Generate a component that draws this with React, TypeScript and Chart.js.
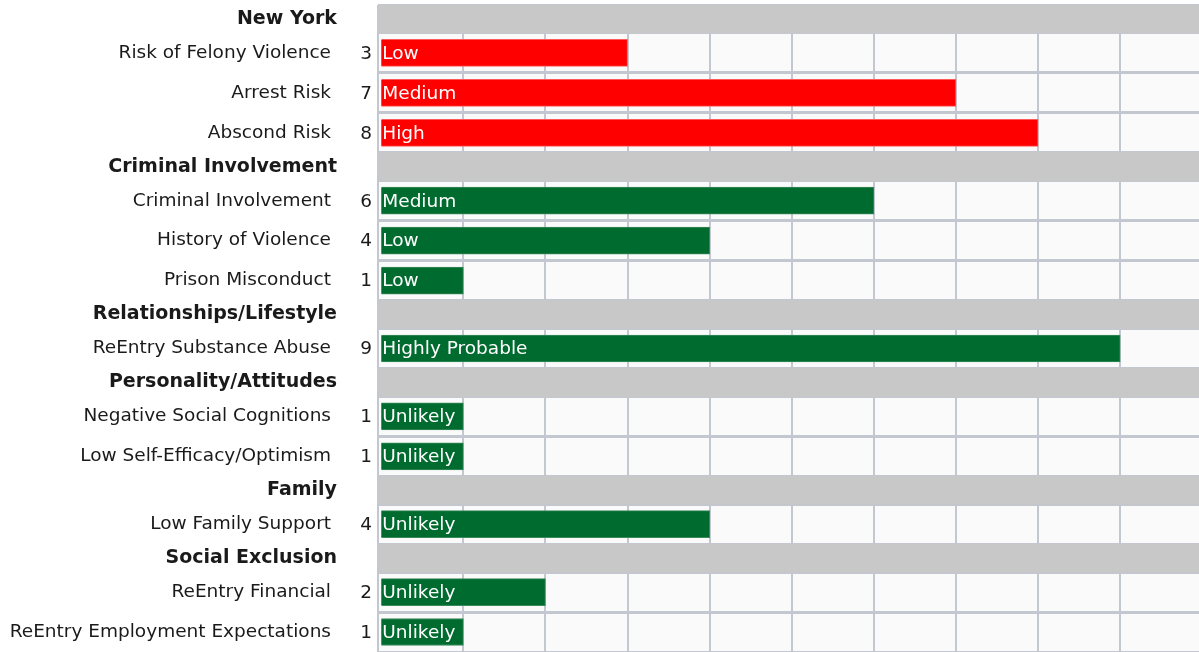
import React, { useEffect, useRef } from "react";
import { Chart, registerables } from "chart.js";

Chart.register(...registerables);

const rowLabels = [
  "New York",
  "Risk of Felony Violence",
  "Arrest Risk",
  "Abscond Risk",
  "Criminal Involvement",
  "Criminal Involvement",
  "History of Violence",
  "Prison Misconduct",
  "Relationships/Lifestyle",
  "ReEntry Substance Abuse",
  "Personality/Attitudes",
  "Negative Social Cognitions",
  "Low Self-Efficacy/Optimism",
  "Family",
  "Low Family Support",
  "Social Exclusion",
  "ReEntry Financial",
  "ReEntry Employment Expectations",
];
const rowIsHeader = [
  true, false, false, false,
  true, false, false, false,
  true, false,
  true, false, false,
  true, false,
  true, false, false,
];
const scores: (number | null)[] = [
  null, 3, 7, 8,
  null, 6, 4, 1,
  null, 9,
  null, 1, 1,
  null, 4,
  null, 2, 1,
];
const levels: (string | null)[] = [
  null, "Low", "Medium", "High",
  null, "Medium", "Low", "Low",
  null, "Highly Probable",
  null, "Unlikely", "Unlikely",
  null, "Unlikely",
  null, "Unlikely", "Unlikely",
];
const RED = "#ff0000";
const GREEN = "#006b2e";
const barColors = [
  "", RED, RED, RED,
  "", GREEN, GREEN, GREEN,
  "", GREEN,
  "", GREEN, GREEN,
  "", GREEN,
  "", GREEN, GREEN,
];
const RED_EDGE = "#ff5a5a";
const GREEN_EDGE = "#3a8a5c";
const barEdges = barColors.map((c) => (c === RED ? RED_EDGE : GREEN_EDGE));

const X_MIN = -0.04;
const X_MAX = 9.96;
const X_TICKS = [1, 2, 3, 4, 5, 6, 7, 8, 9];
const HEADER_UNITS = 0.7;
const ROW_UNITS = 1;

const FONT = "'DejaVu Sans', Verdana, sans-serif";
const GRID = "#c3c7cf";

// derived layout table for the linear y scale
const rowHeights = rowIsHeader.map((h) => (h ? HEADER_UNITS : ROW_UNITS));
const rowStarts: number[] = [];
rowHeights.reduce((acc, h) => {
  rowStarts.push(acc);
  return acc + h;
}, 0);
const Y_TOTAL = rowHeights.reduce((a, b) => a + b, 0);
const rowCenters = rowStarts.map((s, i) => s + rowHeights[i] / 2);
const rowBounds = [...rowStarts, Y_TOTAL];
const dataIdx = rowLabels.map((_, i) => i).filter((i) => !rowIsHeader[i]);
const headIdx = rowLabels.map((_, i) => i).filter((i) => rowIsHeader[i]);

export default function App() {
  const ref = useRef<HTMLCanvasElement | null>(null);

  useEffect(() => {
    if (!ref.current) return;

    const textPlugin = {
      id: "rowText",
      beforeDraw(chart: any) {
        const { ctx, chartArea } = chart;
        ctx.save();
        ctx.fillStyle = "#fafafa";
        ctx.fillRect(chartArea.left, chartArea.top, chartArea.right - chartArea.left, chartArea.bottom - chartArea.top);
        ctx.restore();
      },
      afterDatasetsDraw(chart: any) {
        const { ctx, chartArea } = chart;
        const meta = chart.getDatasetMeta(1);
        ctx.save();
        ctx.font = `18.5px ${FONT}`;
        ctx.textBaseline = "middle";
        meta.data.forEach((el: any, i: number) => {
          if (scores[i] == null) return;
          ctx.fillStyle = "#1a1a1a";
          ctx.textAlign = "right";
          ctx.fillText(String(scores[i]), chartArea.left - 6, el.y + 1);
          ctx.fillStyle = "#ffffff";
          ctx.textAlign = "left";
          ctx.fillText(levels[i] ?? "", el.base + 1, el.y + 1);
        });
        ctx.restore();
      },
    };

    const labelAxis = (idx: number[], bold: boolean, padding: number, width: number, weight: number) => ({
      type: "linear",
      min: 0,
      max: Y_TOTAL,
      reverse: true,
      offset: false,
      position: "left",
      weight,
      grid: { display: false, drawTicks: false, offset: false },
      border: { display: false },
      afterBuildTicks: (s: any) => {
        s.ticks = idx.map((i) => ({ value: rowCenters[i] }));
      },
      afterFit: (s: any) => {
        s.width = width;
        s.paddingTop = 0;
        s.paddingBottom = 0;
        // let labels extend past a zero-width axis box
        s._computeLabelArea = () => undefined;
      },
      ticks: {
        autoSkip: false,
        padding,
        color: "#1a1a1a",
        callback: (_v: any, k: number) => rowLabels[idx[k]],
        font: { family: FONT, size: bold ? 19 : 18.5, weight: bold ? "bold" : "normal" },
      },
    });

    const chart = new Chart(ref.current, {
      type: "bar",
      data: {
        datasets: [
          {
            label: "sections",
            data: rowCenters.map((c, i) => ({ x: rowIsHeader[i] ? X_MAX : null, y: c })) as any,
            backgroundColor: "#c8c8c8",
            barThickness: 28,
            grouped: false,
            base: X_MIN,
            yAxisID: "y",
          },
          {
            label: "scores",
            data: rowCenters.map((c, i) => ({ x: scores[i], y: c })) as any,
            backgroundColor: barColors,
            borderColor: barEdges,
            borderWidth: 1,
            barThickness: 27,
            grouped: false,
            yAxisID: "y",
          },
        ],
      },
      plugins: [textPlugin],
      options: {
        indexAxis: "y",
        animation: false,
        responsive: true,
        maintainAspectRatio: false,
        layout: { padding: { top: 5, right: 0, bottom: 0, left: 0 } },
        plugins: {
          legend: { display: false },
          tooltip: { enabled: false },
        },
        scales: {
          x: {
            type: "linear",
            min: X_MIN,
            max: X_MAX,
            position: "bottom",
            offset: false,
            ticks: { display: false },
            grid: { color: GRID, lineWidth: 2, drawTicks: false, offset: false },
            border: { display: false },
            afterBuildTicks: (s: any) => {
              s.ticks = [X_MIN, ...X_TICKS].map((v) => ({ value: v }));
            },
            afterFit: (s: any) => {
              s.height = 0;
            },
          },
          y: labelAxis(dataIdx, false, 47, 378, 1),
          yHead: labelAxis(headIdx, true, 41, 0, 0),
          yGrid: {
            type: "linear",
            min: 0,
            max: Y_TOTAL,
            reverse: true,
            offset: false,
            position: "left",
            weight: 0,
            grid: { color: GRID, lineWidth: 3, drawTicks: false, offset: false },
            border: { display: false },
            ticks: { display: false },
            afterBuildTicks: (s: any) => {
              s.ticks = rowBounds.map((v) => ({ value: v }));
            },
            afterFit: (s: any) => {
              s.width = 0;
              s.paddingTop = 0;
              s.paddingBottom = 0;
            },
          },
        },
      } as any,
    });
    return () => chart.destroy();
  }, []);

  return (
    <div style={{ position: "fixed", left: 0, top: 0, width: 1199, height: 652, background: "#ffffff" }}>
      <canvas ref={ref} />
    </div>
  );
}
